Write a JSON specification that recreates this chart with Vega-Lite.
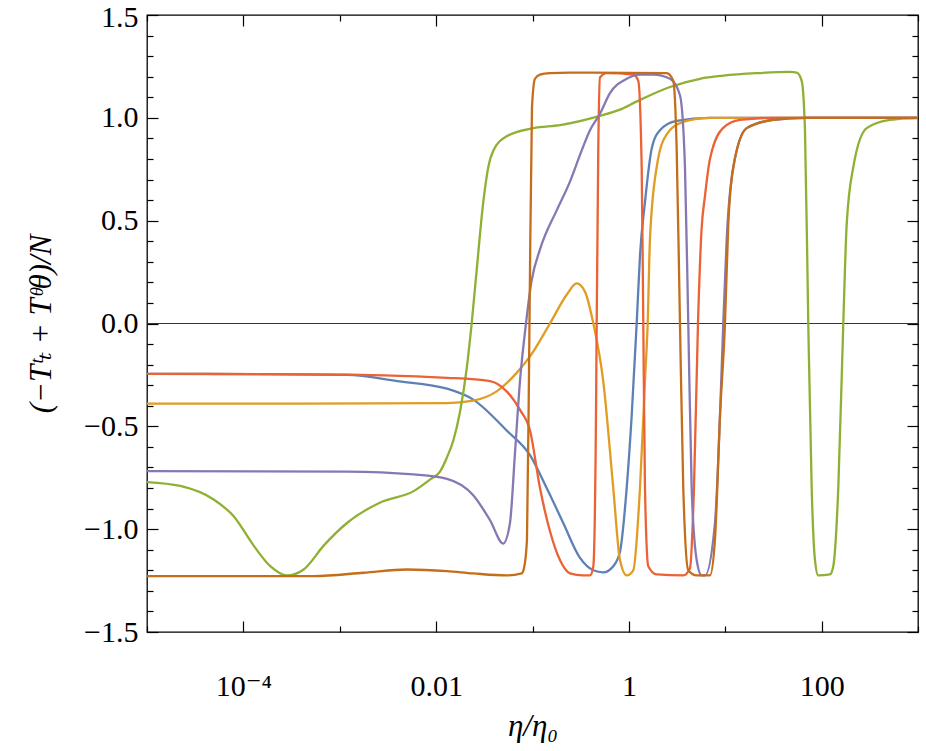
{
  "$schema": "https://vega.github.io/schema/vega-lite/v6.json",
  "width": 771,
  "height": 617,
  "autosize": "none",
  "padding": {"left": 147, "top": 15, "right": 8, "bottom": 119},
  "background": "white",
  "config": {
    "view": {"stroke": "black", "strokeWidth": 1.3},
    "font": "Liberation Serif, DejaVu Serif, serif",
    "axis": {
      "domain": false,
      "grid": false,
      "tickColor": "black",
      "tickWidth": 1.2,
      "labelColor": "black",
      "titleColor": "black",
      "labelFont": "Liberation Serif, DejaVu Serif, serif",
      "titleFont": "Liberation Serif, DejaVu Serif, serif",
      "labelFontSize": 30,
      "titleFontSize": 31,
      "titleFontWeight": "normal",
      "labelOverlap": false,
      "labelFlush": false,
      "labelBound": false
    }
  },
  "layer": [
    {
      "data": {"values": [{"xa": 0.00001, "xb": 1000, "yv": 0}]},
      "mark": {"type": "rule", "color": "#333333", "strokeWidth": 1},
      "encoding": {
        "x": {
          "field": "xa", "type": "quantitative",
          "scale": {"type": "log", "domain": [0.00001, 1000]},
          "axis": {
            "orient": "top", "title": null, "labels": false,
            "values": [0.00001, 0.0001, 0.001, 0.01, 0.1, 1, 10, 100, 1000],
            "tickSize": {"condition": {"test": "round(log(datum.value)/LN10) % 2 == 0", "value": -11}, "value": -6}
          }
        },
        "x2": {"field": "xb"},
        "y": {
          "field": "yv", "type": "quantitative",
          "scale": {"domain": [-1.5, 1.5], "nice": false, "zero": false},
          "axis": {
            "orient": "right", "title": null, "labels": false,
            "values": [-1.5,-1.4,-1.3,-1.2,-1.1,-1,-0.9,-0.8,-0.7,-0.6,-0.5,-0.4,-0.3,-0.2,-0.1,0,0.1,0.2,0.3,0.4,0.5,0.6,0.7,0.8,0.9,1,1.1,1.2,1.3,1.4,1.5],
            "tickSize": {"condition": {"test": "abs(datum.value*2-round(datum.value*2))<0.001", "value": -11}, "value": -6}
          }
        }
      }
    },
    {
      "data": {"values": [
        {"s":"1","x":0.00001,"y":-0.245},{"s":"1","x":0.0001172,"y":-0.246},{"s":"1","x":0.001189,"y":-0.25},{"s":"1","x":0.00393,"y":-0.28},{"s":"1","x":0.01297,"y":-0.317},{"s":"1","x":0.02427,"y":-0.37},{"s":"1","x":0.05395,"y":-0.52},{"s":"1","x":0.0942,"y":-0.64},{"s":"1","x":0.1403,"y":-0.8},{"s":"1","x":0.2084,"y":-0.97},{"s":"1","x":0.3112,"y":-1.14},{"s":"1","x":0.4276,"y":-1.2},{"s":"1","x":0.542,"y":-1.21},{"s":"1","x":0.6887,"y":-1.18},{"s":"1","x":0.8086,"y":-1.11},{"s":"1","x":0.9488,"y":-0.8},{"s":"1","x":1.069,"y":-0.45},{"s":"1","x":1.205,"y":0.0},{"s":"1","x":1.304,"y":0.33},{"s":"1","x":1.469,"y":0.59},{"s":"1","x":1.724,"y":0.85},{"s":"1","x":2.102,"y":0.94},{"s":"1","x":3.133,"y":0.985},{"s":"1","x":6.942,"y":1.0},{"s":"1","x":1000,"y":1.0},

        {"s":"2","x":0.00001,"y":-0.39},{"s":"2","x":0.0003867,"y":-0.39},{"s":"2","x":0.01297,"y":-0.387},{"s":"2","x":0.02427,"y":-0.375},{"s":"2","x":0.04249,"y":-0.33},{"s":"2","x":0.06851,"y":-0.24},{"s":"2","x":0.0942,"y":-0.16},{"s":"2","x":0.1518,"y":0.0},{"s":"2","x":0.2262,"y":0.14},{"s":"2","x":0.2872,"y":0.195},{"s":"2","x":0.3503,"y":0.155},{"s":"2","x":0.4276,"y":0.0},{"s":"2","x":0.542,"y":-0.28},{"s":"2","x":0.6887,"y":-0.8},{"s":"2","x":0.8086,"y":-1.15},{"s":"2","x":0.9488,"y":-1.225},{"s":"2","x":1.111,"y":-1.2},{"s":"2","x":1.304,"y":-0.8},{"s":"2","x":1.469,"y":-0.28},{"s":"2","x":1.567,"y":0.0},{"s":"2","x":1.655,"y":0.41},{"s":"2","x":1.943,"y":0.76},{"s":"2","x":2.467,"y":0.92},{"s":"2","x":3.668,"y":0.98},{"s":"2","x":6.942,"y":1.0},{"s":"2","x":1000,"y":1.0},

        {"s":"3","x":0.00001,"y":-0.771},{"s":"3","x":0.00002214,"y":-0.79},{"s":"3","x":0.00004918,"y":-0.856},{"s":"3","x":0.00007932,"y":-0.937},{"s":"3","x":0.0001279,"y":-1.08},{"s":"3","x":0.0001901,"y":-1.18},{"s":"3","x":0.0002834,"y":-1.225},{"s":"3","x":0.0004224,"y":-1.196},{"s":"3","x":0.0006811,"y":-1.08},{"s":"3","x":0.001189,"y":-0.97},{"s":"3","x":0.002634,"y":-0.87},{"s":"3","x":0.005848,"y":-0.815},{"s":"3","x":0.008695,"y":-0.758},{"s":"3","x":0.01096,"y":-0.72},{"s":"3","x":0.01297,"y":-0.65},{"s":"3","x":0.01506,"y":-0.57},{"s":"3","x":0.01768,"y":-0.43},{"s":"3","x":0.02075,"y":-0.22},{"s":"3","x":0.02338,"y":0.0},{"s":"3","x":0.02635,"y":0.26},{"s":"3","x":0.03085,"y":0.59},{"s":"3","x":0.03476,"y":0.76},{"s":"3","x":0.03917,"y":0.84},{"s":"3","x":0.05395,"y":0.91},{"s":"3","x":0.1019,"y":0.95},{"s":"3","x":0.1928,"y":0.965},{"s":"3","x":0.5013,"y":1.01},{"s":"3","x":0.8086,"y":1.04},{"s":"3","x":1.213,"y":1.08},{"s":"3","x":2.67,"y":1.15},{"s":"3","x":5.467,"y":1.19},{"s":"3","x":9.539,"y":1.205},{"s":"3","x":21.19,"y":1.217},{"s":"3","x":46.96,"y":1.223},{"s":"3","x":55.1,"y":1.22},{"s":"3","x":62.09,"y":1.18},{"s":"3","x":67.19,"y":0.94},{"s":"3","x":72.69,"y":0.0},{"s":"3","x":78.85,"y":-0.8},{"s":"3","x":85.31,"y":-1.15},{"s":"3","x":92.34,"y":-1.225},{"s":"3","x":122.1,"y":-1.22},{"s":"3","x":132.1,"y":-1.18},{"s":"3","x":148.9,"y":-0.8},{"s":"3","x":167.8,"y":0.0},{"s":"3","x":181.9,"y":0.48},{"s":"3","x":213.0,"y":0.76},{"s":"3","x":293.4,"y":0.95},{"s":"3","x":512.0,"y":0.99},{"s":"3","x":1000,"y":1.0},

        {"s":"4","x":0.00001,"y":-0.245},{"s":"4","x":0.0005362,"y":-0.247},{"s":"4","x":0.01297,"y":-0.264},{"s":"4","x":0.03621,"y":-0.28},{"s":"4","x":0.05395,"y":-0.33},{"s":"4","x":0.07413,"y":-0.42},{"s":"4","x":0.0942,"y":-0.52},{"s":"4","x":0.1196,"y":-0.8},{"s":"4","x":0.1518,"y":-1.01},{"s":"4","x":0.1928,"y":-1.15},{"s":"4","x":0.2448,"y":-1.215},{"s":"4","x":0.334,"y":-1.225},{"s":"4","x":0.3948,"y":-1.225},{"s":"4","x":0.4276,"y":-1.18},{"s":"4","x":0.4557,"y":-0.45},{"s":"4","x":0.4634,"y":0.0},{"s":"4","x":0.4814,"y":0.85},{"s":"4","x":0.5013,"y":1.196},{"s":"4","x":0.5883,"y":1.217},{"s":"4","x":1.111,"y":1.21},{"s":"4","x":1.2515,"y":1.18},{"s":"4","x":1.358,"y":0.76},{"s":"4","x":1.411,"y":0.0},{"s":"4","x":1.469,"y":-0.8},{"s":"4","x":1.59,"y":-1.18},{"s":"4","x":1.943,"y":-1.22},{"s":"4","x":3.668,"y":-1.225},{"s":"4","x":4.305,"y":-1.19},{"s":"4","x":4.737,"y":-0.8},{"s":"4","x":5.212,"y":0.0},{"s":"4","x":5.666,"y":0.45},{"s":"4","x":6.162,"y":0.62},{"s":"4","x":6.942,"y":0.8},{"s":"4","x":9.471,"y":0.95},{"s":"4","x":14.21,"y":0.99},{"s":"4","x":31.28,"y":1.0},{"s":"4","x":1000,"y":1.0},

        {"s":"5","x":0.00001,"y":-0.718},{"s":"5","x":0.001189,"y":-0.72},{"s":"5","x":0.005848,"y":-0.734},{"s":"5","x":0.01297,"y":-0.755},{"s":"5","x":0.02427,"y":-0.835},{"s":"5","x":0.03621,"y":-0.956},{"s":"5","x":0.04976,"y":-1.07},{"s":"5","x":0.05837,"y":-0.97},{"s":"5","x":0.0658,"y":-0.63},{"s":"5","x":0.07413,"y":-0.28},{"s":"5","x":0.08556,"y":0.0},{"s":"5","x":0.09804,"y":0.21},{"s":"5","x":0.1196,"y":0.36},{"s":"5","x":0.1781,"y":0.55},{"s":"5","x":0.2448,"y":0.69},{"s":"5","x":0.3112,"y":0.82},{"s":"5","x":0.3948,"y":0.94},{"s":"5","x":0.5013,"y":1.02},{"s":"5","x":0.6366,"y":1.12},{"s":"5","x":0.9488,"y":1.19},{"s":"5","x":1.304,"y":1.21},{"s":"5","x":1.791,"y":1.21},{"s":"5","x":2.67,"y":1.19},{"s":"5","x":3.39,"y":1.11},{"s":"5","x":3.821,"y":0.76},{"s":"5","x":4.133,"y":0.0},{"s":"5","x":4.483,"y":-0.8},{"s":"5","x":5.052,"y":-1.15},{"s":"5","x":5.693,"y":-1.225},{"s":"5","x":6.16,"y":-1.225},{"s":"5","x":7.823,"y":-0.97},{"s":"5","x":8.818,"y":-0.45},{"s":"5","x":9.539,"y":0.0},{"s":"5","x":10.35,"y":0.41},{"s":"5","x":12.12,"y":0.76},{"s":"5","x":16.69,"y":0.95},{"s":"5","x":31.5,"y":0.99},{"s":"5","x":69.98,"y":1.0},{"s":"5","x":1000,"y":1.0},

        {"s":"6","x":0.00001,"y":-1.228},{"s":"6","x":0.0005362,"y":-1.228},{"s":"6","x":0.001771,"y":-1.212},{"s":"6","x":0.004983,"y":-1.196},{"s":"6","x":0.01297,"y":-1.204},{"s":"6","x":0.02412,"y":-1.215},{"s":"6","x":0.05395,"y":-1.225},{"s":"6","x":0.0772,"y":-1.215},{"s":"6","x":0.08155,"y":-1.19},{"s":"6","x":0.08764,"y":-1.05},{"s":"6","x":0.09303,"y":0.0},{"s":"6","x":0.09876,"y":1.05},{"s":"6","x":0.1061,"y":1.19},{"s":"6","x":0.1196,"y":1.21},{"s":"6","x":0.1518,"y":1.217},{"s":"6","x":0.2448,"y":1.22},{"s":"6","x":2.467,"y":1.217},{"s":"6","x":2.888,"y":1.18},{"s":"6","x":3.133,"y":0.85},{"s":"6","x":3.39,"y":0.0},{"s":"6","x":3.668,"y":-0.8},{"s":"6","x":4.133,"y":-1.2},{"s":"6","x":5.052,"y":-1.225},{"s":"6","x":6.942,"y":-1.225},{"s":"6","x":7.823,"y":-1.05},{"s":"6","x":8.818,"y":-0.45},{"s":"6","x":9.934,"y":0.0},{"s":"6","x":10.75,"y":0.48},{"s":"6","x":12.12,"y":0.76},{"s":"6","x":16.69,"y":0.95},{"s":"6","x":31.5,"y":0.99},{"s":"6","x":69.98,"y":1.0},{"s":"6","x":1000,"y":1.0}
      ]},
      "mark": {"type": "line", "strokeWidth": 2.3, "interpolate": "monotone", "clip": true},
      "encoding": {
        "x": {
          "field": "x", "type": "quantitative",
          "scale": {"type": "log", "domain": [0.00001, 1000]},
          "axis": {
            "orient": "bottom",
            "title": "η/η₀",
            "titleFontStyle": "italic",
            "titlePadding": 5,
            "values": [0.00001, 0.0001, 0.001, 0.01, 0.1, 1, 10, 100, 1000],
            "labelExpr": "round(log(datum.value)/LN10) == -4 ? '10⁻⁴' : round(log(datum.value)/LN10) == -2 ? '0.01' : round(log(datum.value)/LN10) == 0 ? '1' : round(log(datum.value)/LN10) == 2 ? '100' : ''",
            "tickSize": {"condition": {"test": "round(log(datum.value)/LN10) % 2 == 0", "value": -11}, "value": -6},
            "labelPadding": 50
          }
        },
        "y": {
          "field": "y", "type": "quantitative",
          "scale": {"domain": [-1.5, 1.5], "nice": false, "zero": false},
          "axis": {
            "orient": "left",
            "title": "(−Tᵗₜ + Tᶿθ)/N",
            "titleFontStyle": "italic",
            "titlePadding": 26,
            "values": [-1.5,-1.4,-1.3,-1.2,-1.1,-1,-0.9,-0.8,-0.7,-0.6,-0.5,-0.4,-0.3,-0.2,-0.1,0,0.1,0.2,0.3,0.4,0.5,0.6,0.7,0.8,0.9,1,1.1,1.2,1.3,1.4,1.5],
            "labelExpr": "abs(datum.value*2-round(datum.value*2))<0.001 ? replace(format(datum.value, '.1f'), '-', '−') : ''",
            "labelOffset": {"condition": {"test": "datum.value > 1.45", "value": 2}, "value": 0},
            "tickSize": {"condition": {"test": "abs(datum.value*2-round(datum.value*2))<0.001", "value": -11}, "value": -6},
            "labelPadding": 20
          }
        },
        "color": {
          "field": "s", "type": "nominal",
          "scale": {"domain": ["1","2","3","4","5","6"], "range": ["#5E81B5","#E19C24","#8FB032","#EB6235","#8778B3","#C56E1A"]},
          "legend": null
        }
      }
    }
  ],
  "resolve": {"axis": {"x": "independent", "y": "independent"}}
}
